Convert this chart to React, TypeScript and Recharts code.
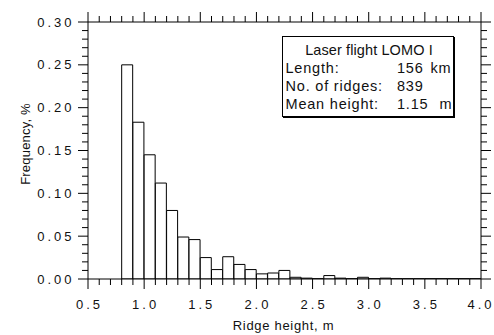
import React from 'react'
import { ComposedChart, Bar, XAxis, YAxis } from 'recharts'

// histogram bins, 0.1 m wide, given by their centres
const binCenters = [
  0.85, 0.95, 1.05, 1.15, 1.25, 1.35, 1.45, 1.55, 1.65, 1.75,
  1.85, 1.95, 2.05, 2.15, 2.25, 2.35, 2.45, 2.55, 2.65, 2.75,
  2.85, 2.95, 3.05, 3.15, 3.25, 3.35, 3.45, 3.55, 3.65, 3.75,
  3.85, 3.95,
]
const frequency = [
  0.250, 0.183, 0.145, 0.112, 0.080, 0.049, 0.046, 0.025, 0.011, 0.026,
  0.017, 0.011, 0.006, 0.007, 0.010, 0.002, 0.001, 0.0003, 0.004, 0.001,
  0.0003, 0.002, 0.0003, 0.001, 0.0003, 0.0003, 0.0003, 0.0003, 0.0003, 0.0003,
  0.0003, 0.0003,
]

const xTicks = [
  0.5, 0.6, 0.7, 0.8, 0.9, 1.0, 1.1, 1.2, 1.3, 1.4, 1.5, 1.6, 1.7, 1.8, 1.9,
  2.0, 2.1, 2.2, 2.3, 2.4, 2.5, 2.6, 2.7, 2.8, 2.9, 3.0, 3.1, 3.2, 3.3, 3.4,
  3.5, 3.6, 3.7, 3.8, 3.9, 4.0,
]
const yTicks = [
  0, 0.01, 0.02, 0.03, 0.04, 0.05, 0.06, 0.07, 0.08, 0.09, 0.10,
  0.11, 0.12, 0.13, 0.14, 0.15, 0.16, 0.17, 0.18, 0.19, 0.20,
  0.21, 0.22, 0.23, 0.24, 0.25, 0.26, 0.27, 0.28, 0.29, 0.30,
]

const infoTitle = 'Laser flight LOMO I'
const infoRows = [
  { name: 'Length:', value: '156', unit: 'km' },
  { name: 'No. of ridges:', value: '839', unit: '' },
  { name: 'Mean height:', value: '1.15', unit: 'm' },
]

const data = binCenters.map((x, i) => ({ x, freq: frequency[i] }))

const FONT = '"Liberation Sans", Arial, Helvetica, sans-serif'
const MAJOR = 10
const MINOR = 6

const isMultiple = (v: number, step: number) => Math.abs(v / step - Math.round(v / step)) < 1e-6

// wide-spaced tick label, with no spacing after the last character
function Spaced({ s }: { s: string }) {
  return (
    <>
      <tspan letterSpacing={3}>{s.slice(0, -1)}</tspan>
      <tspan letterSpacing={0}>{s.slice(-1)}</tspan>
    </>
  )
}

function BottomTick({ x, y, payload }: any) {
  const major = isMultiple(payload.value, 0.5)
  const last = payload.value >= 4
  return (
    <g>
      <line x1={x} x2={x} y1={y} y2={y + (major ? MAJOR : MINOR)} stroke="#000" />
      {major && (
        <text x={last ? x - 1.5 : x} y={y + 30} textAnchor="middle" fontSize={13}
          fontFamily={FONT} fill="#111">
          <Spaced s={payload.value.toFixed(1)} />
        </text>
      )}
    </g>
  )
}

function TopTick({ x, y, payload }: any) {
  const major = isMultiple(payload.value, 0.5)
  return <line x1={x} x2={x} y1={y} y2={y - (major ? MAJOR : MINOR)} stroke="#000" />
}

function LeftTick({ x, y, payload }: any) {
  const major = isMultiple(payload.value, 0.05)
  return (
    <g>
      <line x1={x} x2={x - (major ? MAJOR : MINOR)} y1={y} y2={y} stroke="#000" />
      {major && (
        <text x={x - 16.5} y={y + 4.6} textAnchor="end" fontSize={13}
          fontFamily={FONT} fill="#111">
          <Spaced s={payload.value.toFixed(2)} />
        </text>
      )}
    </g>
  )
}

function RightTick({ x, y, payload }: any) {
  const major = isMultiple(payload.value, 0.05)
  return <line x1={x} x2={x + (major ? MAJOR : MINOR)} y1={y} y2={y} stroke="#000" />
}

function XTitle({ viewBox }: any) {
  return (
    <text x={viewBox.x + viewBox.width / 2 - 1} y={viewBox.y + 51} textAnchor="middle"
      fontSize={13} letterSpacing={0.7} fontFamily={FONT} fill="#111">
      Ridge height, m
    </text>
  )
}

function YTitle({ viewBox }: any) {
  const cx = viewBox.x + viewBox.width - 58.5
  const cy = viewBox.y + viewBox.height / 2 - 6.5
  return (
    <text x={cx} y={cy} transform={`rotate(-90, ${cx}, ${cy})`} textAnchor="middle"
      fontSize={13} letterSpacing={0.2} fontFamily={FONT} fill="#111">
      Frequency, %
    </text>
  )
}

function InfoBox() {
  return (
    <svg width={494} height={335} style={{ position: 'absolute', left: 0, top: 0, pointerEvents: 'none' }}>
      <rect x={282.5} y={36.5} width={171} height={80} fill="#fff" stroke="#000" />
      <line x1={454.5} x2={454.5} y1={37} y2={117.5} stroke="#000" />
      <line x1={283} x2={455} y1={117.5} y2={117.5} stroke="#000" />
      <text x={369} y={55} textAnchor="middle" fontSize={14.5} letterSpacing={0.1} fontFamily={FONT} fill="#111">
        {infoTitle}
      </text>
      {infoRows.map((r, i) => (
        <g key={r.name} fontSize={14.5} letterSpacing={0.8} fontFamily={FONT} fill="#111">
          <text x={285.5} y={73 + i * 18}>{r.name}</text>
          <text x={397} y={73 + i * 18}>{r.value}</text>
          {r.unit && <text x={r.unit === 'km' ? 430.5 : 439.5} y={73 + i * 18}>{r.unit}</text>}
        </g>
      ))}
    </svg>
  )
}

export default function App() {
  return (
    <div style={{ position: 'relative', width: 494, height: 335, background: '#fff' }}>
      <style>{'body{margin:0}'}</style>
      <ComposedChart
        width={494}
        height={335}
        data={data}
        margin={{ top: 2, right: 3, bottom: 26, left: 28 }}
        barCategoryGap={0}
        barGap={0}
      >
        <XAxis
          xAxisId="bottom"
          dataKey="x"
          type="number"
          domain={[0.5, 4]}
          allowDataOverflow
          ticks={xTicks}
          interval={0}
          height={30}
          tickSize={0}
          tickMargin={0}
          tickLine={false}
          axisLine={{ stroke: '#000' }}
          tick={(p: any) => <BottomTick {...p} />}
          label={{ content: (p: any) => <XTitle {...p} /> }}
        />
        <XAxis
          xAxisId="top"
          orientation="top"
          dataKey="x"
          type="number"
          domain={[0.5, 4]}
          allowDataOverflow
          ticks={xTicks}
          interval={0}
          height={20}
          tickSize={0}
          tickMargin={0}
          tickLine={false}
          axisLine={{ stroke: '#000' }}
          tick={(p: any) => <TopTick {...p} />}
        />
        <YAxis
          yAxisId="left"
          type="number"
          domain={[0, 0.3]}
          allowDataOverflow
          ticks={yTicks}
          interval={0}
          width={60}
          tickSize={0}
          tickMargin={0}
          tickLine={false}
          axisLine={{ stroke: '#000' }}
          tick={(p: any) => <LeftTick {...p} />}
          label={{ content: (p: any) => <YTitle {...p} /> }}
        />
        <YAxis
          yAxisId="right"
          orientation="right"
          type="number"
          domain={[0, 0.3]}
          allowDataOverflow
          ticks={yTicks}
          interval={0}
          width={10}
          tickSize={0}
          tickMargin={0}
          tickLine={false}
          axisLine={{ stroke: '#000' }}
          tick={(p: any) => <RightTick {...p} />}
        />
        <Bar
          xAxisId="bottom"
          yAxisId="left"
          dataKey="freq"
          fill="#fff"
          stroke="#000"
          strokeWidth={1}
          isAnimationActive={false}
        />
      </ComposedChart>
      <InfoBox />
    </div>
  )
}
